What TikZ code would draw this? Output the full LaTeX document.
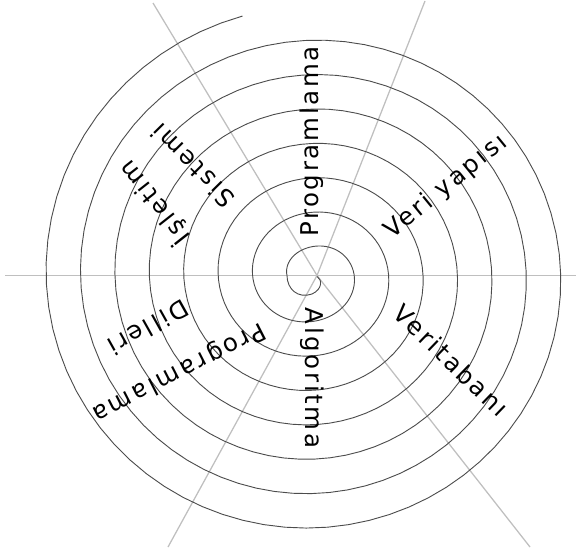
\documentclass[tikz,border=0pt]{standalone}
\usepackage{fontspec}
\newfontfamily\spiralfont{DejaVu Sans}[LetterSpace=11]

\begin{document}
\begin{tikzpicture}[
  x=0.025cm, y=-0.025cm,
  declare function={spr(\t)=5.4+0.0956*\t+2.4*cos(2*\t);},
  spiral/.style={draw=black!70,line width=0.65pt},
  spoke/.style={draw=black!25,line width=0.9pt},
  lbl/.style={font=\spiralfont\fontsize{17.4}{20}\selectfont,inner sep=0pt}
]
  \useasboundingbox (0,0) rectangle (576,547);

  % spokes
  \coordinate (c) at (317,275.5);
  \coordinate (eW) at (5,275.5);
  \coordinate (eE) at (576,275.5);
  \coordinate (eNE) at (425,1);
  \coordinate (eNW) at (153,3);
  \coordinate (eSW) at (168,547);
  \coordinate (eSE) at (530,547);
  \foreach \e in {eW,eE,eNE,eNW,eSW,eSE}
    \draw[spoke] (c) -- (\e);

  % spiral
  \draw[spiral] (317,276.5) .. controls (322,279) and (323,289) .. (312,294)
    .. controls (298,299) and (287,289) .. (287,275.5)
    -- plot[domain=180:2775,samples=540,variable=\t]
       ({312+spr(\t)*cos(\t)},{275.5+spr(\t)*sin(\t)});

  % labels
  \node[lbl,rotate=90] (prog) at (312,141.5) {Programlama};
  \node[lbl,rotate=-90] (algo) at (312,378) {Algoritma};
  \node[lbl,rotate=39.3] (veri) at (446,187) {Veri yapısı};
  \node[lbl,rotate=-43.9] (vtab) at (451.5,360.5) {Veritabanı};
  \node[lbl,rotate=207.1] (pdil) at (179,371.5) {Programlama};
  \node[lbl,rotate=209.3] (dill) at (148.5,327.5) {Dilleri};
  \node[lbl,rotate=134.6] (sist) at (193,166) {Sistemi};
  \node[lbl,rotate=128.2] (islt) at (154.5,203) {İşletim};
\end{tikzpicture}
\end{document}
